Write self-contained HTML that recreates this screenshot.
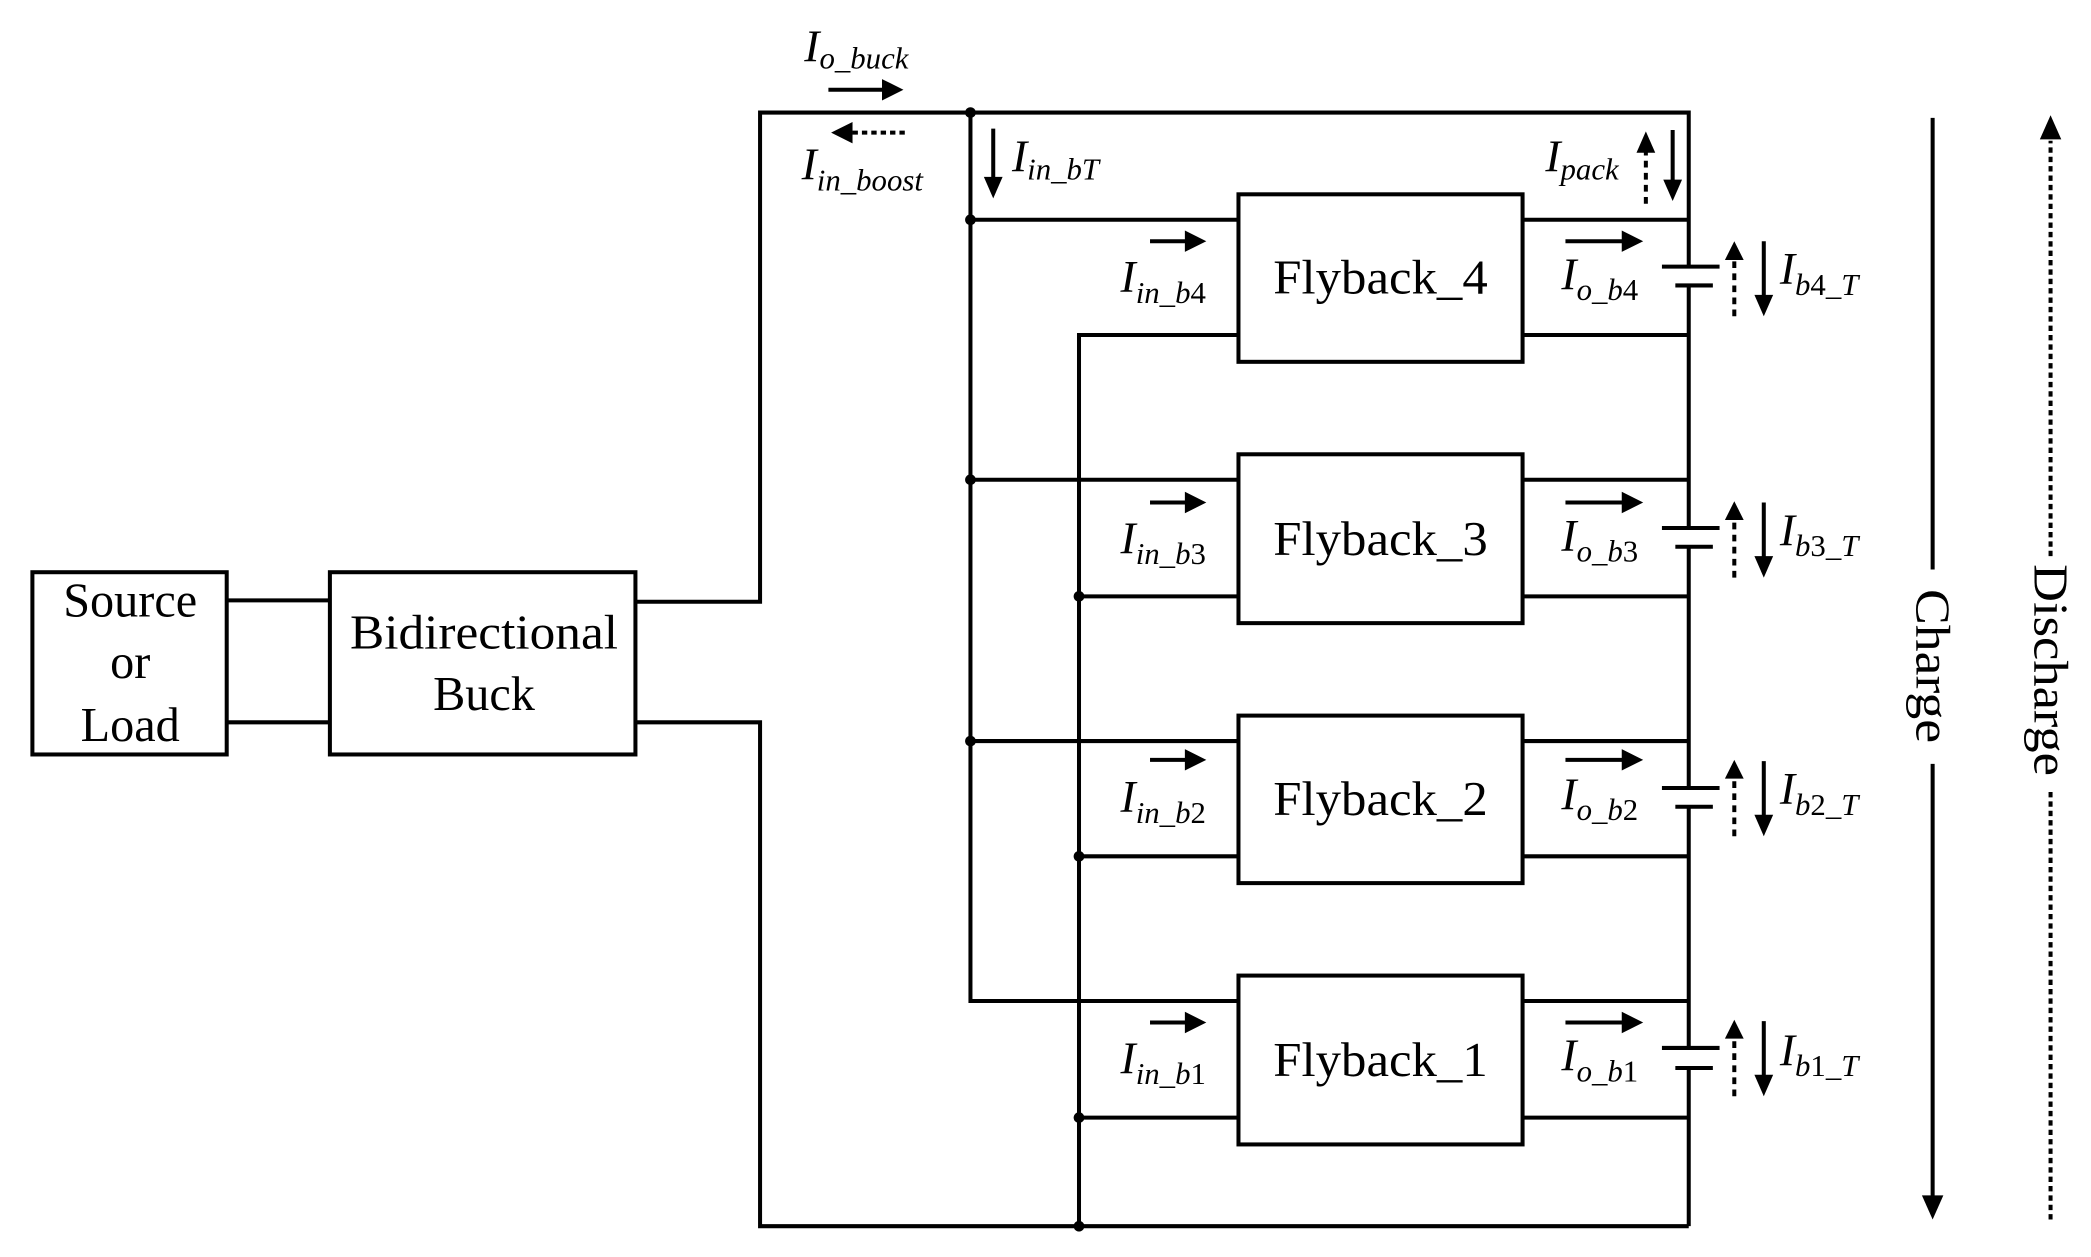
<!DOCTYPE html>
<html><head><meta charset="utf-8"><style>
html,body{margin:0;padding:0;background:#fff;}
svg{display:block}
text{font-family:"Liberation Serif",serif;fill:#000}
.it{font-style:italic}
</style></head><body>
<svg width="2091" height="1257" viewBox="0 0 1560 938" xmlns="http://www.w3.org/2000/svg">
<g stroke="#000" stroke-width="3" fill="none">
<rect x="24" y="427" width="145" height="136"/>
<rect x="246" y="427" width="228" height="136"/>
<rect x="924" y="145" width="212" height="125"/>
<rect x="924" y="339" width="212" height="126"/>
<rect x="924" y="534" width="212" height="125"/>
<rect x="924" y="728" width="212" height="126"/>
<path d="M169 448H246M169 539H246"/>
<path d="M474 449H567V84H1260V199"/>
<path d="M474 539H567V915H1260"/>
<path d="M724 84V747H924"/>
<path d="M724 164H924M724 358H924M724 553H924"/>
<path d="M805 915V250H924M805 445H924M805 639H924M805 834H924"/>
<path d="M1136 164H1260M1136 358H1260M1136 553H1260M1136 747H1260"/>
<path d="M1136 250H1260M1136 445H1260M1136 639H1260M1136 834H1260"/>
<path d="M1260 213V394M1260 408V588M1260 602V782M1260 797V915"/>
<path d="M1240 199H1283M1250 213H1278"/>
<path d="M1240 394H1283M1250 408H1278"/>
<path d="M1240 588H1283M1250 602H1278"/>
<path d="M1240 782H1283M1250 797H1278"/>
</g>
<g fill="#000">
<circle cx="724" cy="84" r="4"/><circle cx="724" cy="164" r="4"/><circle cx="724" cy="358" r="4"/><circle cx="724" cy="553" r="4"/>
<circle cx="805" cy="445" r="4"/><circle cx="805" cy="639" r="4"/><circle cx="805" cy="834" r="4"/><circle cx="805" cy="915" r="4"/>
</g>
<g stroke="#000" stroke-width="3" fill="none">
<path d="M618 67H660"/>
<path d="M675 99H636" stroke-dasharray="4 3"/>
<path d="M741 96V136"/>
<path d="M1228 152V110" stroke-dasharray="5 4"/>
<path d="M1248 97V137"/>
<path d="M858 180H888M858 375H888M858 567H888M858 763H888"/>
<path d="M1168 180H1214M1168 375H1214M1168 567H1214M1168 763H1214"/>
<path d="M1294 236V192M1294 431V387M1294 624V580M1294 818V774" stroke-dasharray="5 4"/>
<path d="M1316 180V222M1316 375V417M1316 568V610M1316 762V804"/>
<path d="M1442 88V425M1442 570V895"/>
<path d="M1530 910V590M1530 415V105" stroke-dasharray="4 3"/>
</g>
<g fill="#000">
<path d="M674 67l-16 -8v16z"/>
<path d="M620 99l16 -8v16z"/>
<path d="M741 148l-7 -16h14z"/>
<path d="M1228 98l-7 16h14z"/>
<path d="M1248 150l-7 -16h14z"/>
<path d="M900 180l-16 -8v16z"/><path d="M900 375l-16 -8v16z"/><path d="M900 567l-16 -8v16z"/><path d="M900 763l-16 -8v16z"/>
<path d="M1226 180l-16 -8v16z"/><path d="M1226 375l-16 -8v16z"/><path d="M1226 567l-16 -8v16z"/><path d="M1226 763l-16 -8v16z"/>
<path d="M1294 180l-7 14h14z"/><path d="M1294 374l-7 14h14z"/><path d="M1294 567l-7 14h14z"/><path d="M1294 761l-7 14h14z"/>
<path d="M1316 236l-7 -16h14z"/><path d="M1316 431l-7 -16h14z"/><path d="M1316 624l-7 -16h14z"/><path d="M1316 818l-7 -16h14z"/>
<path d="M1442 910l-8 -18h16z"/>
<path d="M1530 86l-8 18h16z"/>
</g>
<g font-size="36" text-anchor="middle">
<text x="97" y="460">Source</text>
<text x="97" y="506">or</text>
<text x="97" y="553">Load</text>
<text x="361" y="484" textLength="200" lengthAdjust="spacingAndGlyphs">Bidirectional</text>
<text x="361" y="530">Buck</text>
<text x="1030" y="219" textLength="160" lengthAdjust="spacingAndGlyphs">Flyback_4</text>
<text x="1030" y="414" textLength="160" lengthAdjust="spacingAndGlyphs">Flyback_3</text>
<text x="1030" y="608" textLength="160" lengthAdjust="spacingAndGlyphs">Flyback_2</text>
<text x="1030" y="803" textLength="160" lengthAdjust="spacingAndGlyphs">Flyback_1</text>
<text transform="translate(1430 497) rotate(90)" textLength="115" lengthAdjust="spacingAndGlyphs">Charge</text>
<text transform="translate(1518 500) rotate(90)" textLength="158" lengthAdjust="spacingAndGlyphs">Discharge</text>
</g>
<g font-size="34">
<text x="600" y="46" class="it">I<tspan font-size="23" dy="5">o_buck</tspan></text>
<text x="598" y="134" class="it">I<tspan font-size="23" dy="8">in_boost</tspan></text>
<text x="755" y="128" class="it">I<tspan font-size="23" dy="6">in_bT</tspan></text>
<text x="1153" y="128" class="it">I<tspan font-size="23" dy="6">pack</tspan></text>
<text x="836" y="218" class="it">I<tspan font-size="23" dy="8">in_b</tspan><tspan font-size="23" font-style="normal">4</tspan></text>
<text x="836" y="413" class="it">I<tspan font-size="23" dy="8">in_b</tspan><tspan font-size="23" font-style="normal">3</tspan></text>
<text x="836" y="606" class="it">I<tspan font-size="23" dy="8">in_b</tspan><tspan font-size="23" font-style="normal">2</tspan></text>
<text x="836" y="801" class="it">I<tspan font-size="23" dy="8">in_b</tspan><tspan font-size="23" font-style="normal">1</tspan></text>
<text x="1165" y="216" class="it">I<tspan font-size="23" dy="8">o_b</tspan><tspan font-size="23" font-style="normal">4</tspan></text>
<text x="1165" y="411" class="it">I<tspan font-size="23" dy="8">o_b</tspan><tspan font-size="23" font-style="normal">3</tspan></text>
<text x="1165" y="604" class="it">I<tspan font-size="23" dy="8">o_b</tspan><tspan font-size="23" font-style="normal">2</tspan></text>
<text x="1165" y="799" class="it">I<tspan font-size="23" dy="8">o_b</tspan><tspan font-size="23" font-style="normal">1</tspan></text>
<text x="1328" y="212" class="it">I<tspan font-size="23" dy="8">b</tspan><tspan font-size="23" font-style="normal">4</tspan><tspan font-size="23">_T</tspan></text>
<text x="1328" y="407" class="it">I<tspan font-size="23" dy="8">b</tspan><tspan font-size="23" font-style="normal">3</tspan><tspan font-size="23">_T</tspan></text>
<text x="1328" y="600" class="it">I<tspan font-size="23" dy="8">b</tspan><tspan font-size="23" font-style="normal">2</tspan><tspan font-size="23">_T</tspan></text>
<text x="1328" y="795" class="it">I<tspan font-size="23" dy="8">b</tspan><tspan font-size="23" font-style="normal">1</tspan><tspan font-size="23">_T</tspan></text>
</g>
</svg>
</body></html>
